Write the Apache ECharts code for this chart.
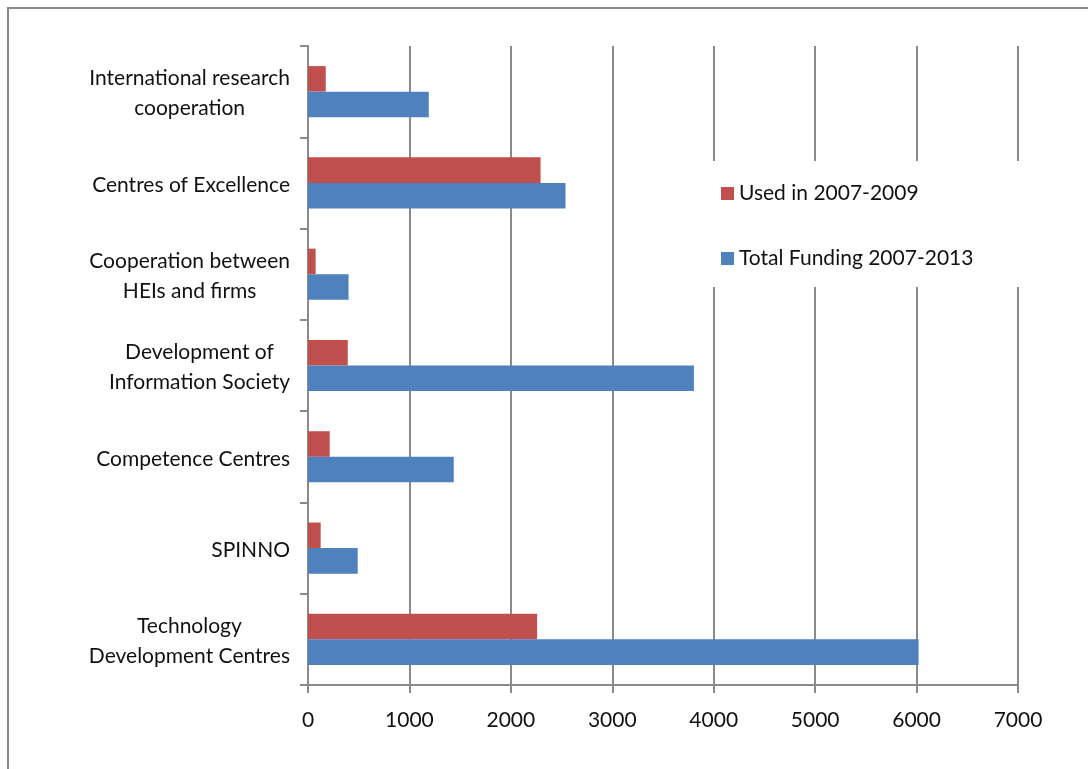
<!DOCTYPE html>
<html>
<head>
<meta charset="utf-8">
<script src="https://cdn.jsdelivr.net/npm/echarts@6/dist/echarts.min.js"></script>
<style>
html,body{margin:0;padding:0;background:#fff;}
#c{width:1088px;height:769px;}
</style>
</head>
<body>
<div id="c"></div>
<script>
const categories = [
  "Technology\nDevelopment Centres",
  "SPINNO",
  "Competence Centres",
  "Development of\nInformation Society",
  "Cooperation between\nHEIs and firms",
  "Centres of Excellence",
  "International research\ncooperation"
];
const usedName = "Used in 2007-2009";
const totalName = "Total Funding 2007-2013";
const used = [2259, 125, 214, 392, 75, 2293, 175];
const total = [6020, 490, 1437, 3805, 400, 2539, 1191];
const xTicks = [0, 1000, 2000, 3000, 4000, 5000, 6000, 7000];

const font = "Lato";
const fs = 21;
const chart = echarts.init(document.getElementById('c'));
chart.setOption({
  animation: false,
  backgroundColor: '#fff',
  textStyle: { fontFamily: font },
  graphic: [{
    type: 'rect', silent: true, z: -10,
    shape: { x: 8, y: 8, width: 1200, height: 900 },
    style: { fill: 'none', stroke: '#8a8a8a', lineWidth: 2 }
  }],
  grid: { left: 308, right: 70, top: 46, bottom: 84, containLabel: false },
  legend: {
    orient: 'vertical',
    left: 706, top: 161,
    padding: [22, 52, 18, 15],
    backgroundColor: '#fff',
    itemWidth: 13, itemHeight: 13, itemGap: 44,
    icon: 'rect',
    data: [usedName, totalName],
    textStyle: { fontFamily: font, fontSize: fs, color: '#111' },
    z: 10
  },
  xAxis: {
    type: 'value', min: xTicks[0], max: xTicks[xTicks.length - 1], interval: 1000,
    axisLine: { show: true, lineStyle: { color: '#8a8a8a', width: 2 } },
    axisTick: { show: true, length: 8, lineStyle: { color: '#8a8a8a', width: 2 } },
    splitLine: { show: true, lineStyle: { color: '#8a8a8a', width: 2 } },
    axisLabel: { fontFamily: font, fontSize: fs, color: '#111', margin: 25,
      formatter: function (v) { return String(v); } }
  },
  yAxis: {
    type: 'category', data: categories,
    axisLine: { show: true, lineStyle: { color: '#8a8a8a', width: 2 } },
    axisTick: { show: true, length: 8, alignWithLabel: false, lineStyle: { color: '#8a8a8a', width: 2 } },
    axisLabel: {
      margin: 18, fontFamily: font, fontSize: fs, color: '#111', lineHeight: 30,
      padding: [4, 0, 0, 0],
      formatter: function (v) { return v.split('\n').map(function (s) { return '{c|' + s + '}'; }).join('\n'); },
      rich: { c: { align: 'center', fontFamily: font, fontSize: fs, color: '#111', lineHeight: 30 } }
    }
  },
  series: [
    { name: usedName, type: 'bar', data: used, itemStyle: { color: '#C0504D' }, barGap: '0%', barCategoryGap: '44%' },
    { name: totalName, type: 'bar', data: total, itemStyle: { color: '#4F81BD' }, barGap: '0%', barCategoryGap: '44%' }
  ]
});
</script>
</body>
</html>
